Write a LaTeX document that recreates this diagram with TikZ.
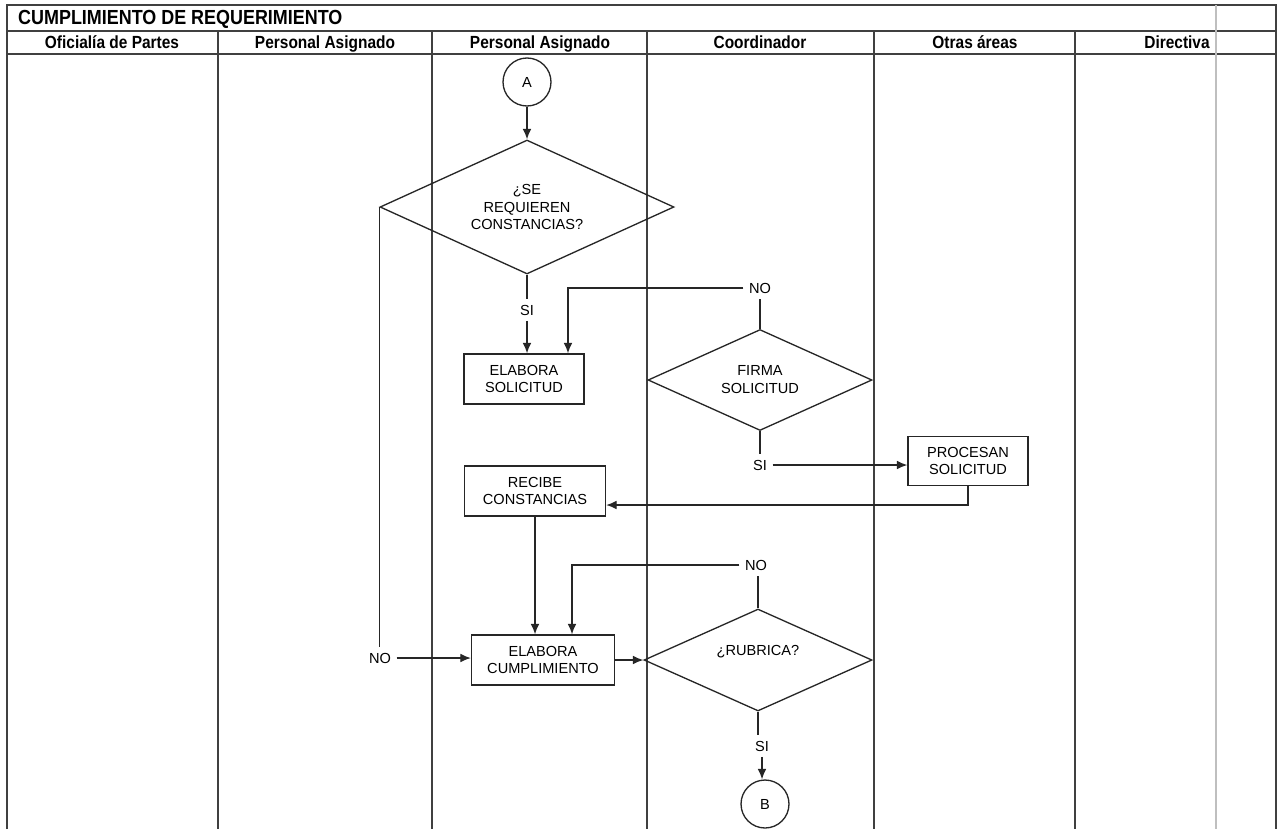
\documentclass[tikz,border=0pt]{standalone}
\usepackage{fontspec}
\setmainfont{Liberation Sans}
\newfontfamily\cabfont[FakeStretch=0.88]{Liberation Sans}
\usetikzlibrary{shapes.geometric,arrows.meta,positioning}

\begin{document}
\begin{tikzpicture}[x=0.02cm,y=-0.02cm,
  linea/.style={line width=0.75pt,draw=black!85},
  carril/.style={line width=1pt,draw=black!75},
  proceso/.style={rectangle,draw=black!85,line width=0.75pt,align=center,inner sep=1pt,font=\fontsize{8.3}{9.8}\selectfont},
  decision/.style={diamond,shape aspect=2.2,draw=black!85,line width=0.75pt,align=center,inner sep=0pt,font=\fontsize{8.3}{10.2}\selectfont},
  conector/.style={circle,draw=black!85,line width=0.75pt,minimum size=0.96cm,inner sep=0pt,font=\fontsize{8.3}{9}\selectfont},
  etiqueta/.style={inner sep=3pt,font=\fontsize{8.3}{9}\selectfont},
  flecha/.style={linea,-{Latex[length=6pt,width=5pt]}}]
\useasboundingbox (0,0) rectangle (1277,829);
\fill[white] (0,0) rectangle (1277,829);

% marco y carriles
\draw[carril] (7,829) -- (7,5) -- (1276,5) -- (1276,829);
\draw[carril] (7,31) -- (1276,31);
\draw[carril] (7,54) -- (1276,54);
\foreach \x in {218,432,647,874,1075} {
\draw[carril] (\x,31) -- (\x,829);
}
\draw[black!25,line width=0.6pt] (1216,5) -- (1216,829);

\node[anchor=base west,font=\cabfont\bfseries\fontsize{11.6}{14}\selectfont] (titulo) at (12,24) {CUMPLIMIENTO DE REQUERIMIENTO};
\foreach \cx/\txt [count=\i] in {112/Oficialía de Partes,325/Personal Asignado,540/Personal Asignado,760/Coordinador,975/Otras áreas,1177/Directiva} {
\node[anchor=base,font=\cabfont\bfseries\fontsize{10}{12}\selectfont] (cab\i) at (\cx,48) {\txt};
}

% nodos
\node[conector] (A) at (527,82) {A};
\node[decision,minimum width=5.88cm,minimum height=2.68cm] (reqc) at (527,207) {¿SE\\REQUIEREN\\CONSTANCIAS?};
\node[proceso,minimum width=2.4cm,minimum height=1cm] (elabsol) at (524,379) {ELABORA\\SOLICITUD};
\node[decision,minimum width=4.48cm,minimum height=2.02cm] (firma) at (760,380) {FIRMA\\SOLICITUD};
\node[proceso,minimum width=2.4cm,minimum height=0.98cm] (procesan) at (968,461) {PROCESAN\\SOLICITUD};
\node[proceso,minimum width=2.82cm,minimum height=1cm] (recibe) at (535,491) {RECIBE\\CONSTANCIAS};
\node[proceso,minimum width=2.86cm,minimum height=1cm] (elabcum) at (543,660) {ELABORA\\CUMPLIMIENTO};
\node[decision,minimum width=4.56cm,minimum height=2.04cm,text depth=0.4cm] (rubrica) at (758,660) {¿RUBRICA?};
\node[conector] (B) at (765,804) {B};

% etiquetas
\node[etiqueta] (noreq) at (380,658) {NO};
\node[etiqueta] (sireq) at (527,310) {SI};
\node[etiqueta] (nofirma) at (760,288) {NO};
\node[etiqueta] (sifirma) at (760,465) {SI};
\node[etiqueta] (norub) at (756,565) {NO};
\node[etiqueta] (sirub) at (762,746) {SI};

% conectores
\draw[flecha] (A) -- (reqc);
\draw[linea] (reqc.west) -- (reqc.west |- noreq.north);
\draw[flecha] (noreq.east) -- (noreq.east -| elabcum.west);
\draw[linea] (reqc.south) -- (reqc.south |- sireq.north);
\draw[flecha] (sireq.south) -- (sireq.south |- elabsol.north);
\draw[linea] (firma.north) -- (firma.north |- nofirma.south);
\draw[flecha] (nofirma.west) -| ([xshift=0.88cm]elabsol.north);
\draw[linea] (firma.south) -- (firma.south |- sifirma.north);
\draw[flecha] (sifirma.east) -- (sifirma.east -| procesan.west);
\draw[flecha] (procesan.south) |- ([yshift=-0.28cm]recibe.east);
\draw[flecha] (recibe.south) -- (recibe.south |- elabcum.north);
\draw[flecha] (elabcum.east) -- (rubrica.west);
\draw[linea] (rubrica.north) -- (rubrica.north |- norub.south);
\draw[flecha] (norub.west) -| ([xshift=0.58cm]elabcum.north);
\draw[linea] (rubrica.south) -- (rubrica.south |- sirub.north);
\draw[flecha] (sirub.south) -- (sirub.south |- B.north);
\end{tikzpicture}
\end{document}
